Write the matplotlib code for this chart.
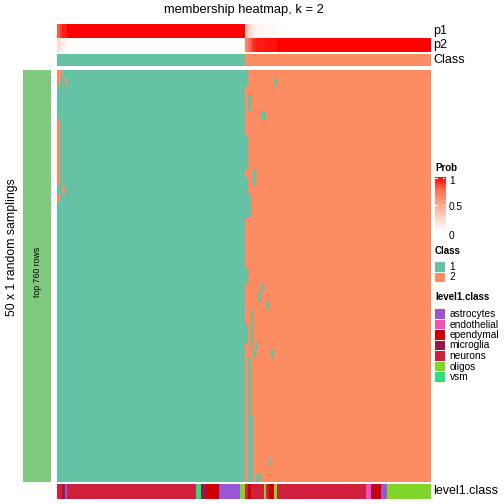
import matplotlib
matplotlib.use('Agg')
import matplotlib.pyplot as plt
import numpy as np
from matplotlib.colors import ListedColormap, LinearSegmentedColormap
from matplotlib.patches import Rectangle

plt.rcParams['font.family'] = ['Liberation Sans', 'DejaVu Sans']

# ---- data ----
n_class1 = 72
n_class2 = 71
n_rows = 50

# membership probability of class 1 per column (p2 = 1 - p1)
p1 = ([0.80, 0.87, 0.93, 0.93] + [1.0] * 68 +
      [0.33, 0.25, 0.16, 0.09, 0.06, 0.06, 0.06, 0.04, 0.04, 0.04, 0.04, 0.04] +
      [0.0] * 59)

# per random sampling: number of leading columns assigned to class 1
row_split = ([73] * 2 + [72] * 6 + [73] * 4 + [72] + [73] * 2 + [74] * 3 +
             [72] * 6 + [73] * 2 + [72] * 5 + [73] * 2 + [72] * 17)

# single cells assigned to class 1 inside class 2 block (row, col)
extra_class1 = [(1, 83), (3, 73), (4, 73), (5, 78), (5, 79), (12, 75), (13, 75),
                (26, 78), (27, 77), (28, 80),
                (29, 74), (30, 74), (31, 74), (32, 74), (33, 74), (33, 76),
                (34, 75), (34, 82),
                (35, 73), (36, 73), (37, 73), (38, 73), (39, 73), (40, 73), (41, 73),
                (42, 73), (43, 73), (44, 73), (45, 73), (46, 73), (47, 73), (48, 73), (49, 73),
                (42, 74), (43, 74), (44, 74), (45, 74), (46, 74), (47, 74), (48, 74), (49, 74),
                (47, 81), (49, 76), (49, 77)]
# cells assigned to class 2 inside class 1 block
extra_class2 = [(0, 0), (0, 1), (1, 0), (1, 3), (6, 0), (7, 0), (8, 0), (9, 0),
                (10, 0), (11, 0), (12, 0), (13, 0), (14, 2), (15, 0)]

# level1.class annotation as runs along the columns
level1_runs = [('neurons', 2), ('microglia', 1), ('astrocytes', 1), ('neurons', 49),
               ('vsm', 2), ('microglia', 2), ('ependymal', 5), ('astrocytes', 8),
               ('oligos', 2), ('neurons', 1), ('ependymal', 1), ('neurons', 5),
               ('oligos', 1), ('neurons', 1), ('ependymal', 2), ('oligos', 1),
               ('neurons', 34), ('endothelial', 2), ('microglia', 1), ('ependymal', 3),
               ('astrocytes', 2), ('oligos', 17)]
level1_names = ['astrocytes', 'endothelial', 'ependymal', 'microglia', 'neurons', 'oligos', 'vsm']
level1_colors = ['#9A55D3', '#F34FB6', '#CC0000', '#98184A', '#D01F3C', '#80D42A', '#2BE07D']

class_colors = ['#66C2A5', '#FC8D62']
prob_cmap = LinearSegmentedColormap.from_list(
    'prob', [(0, '#FFFFFF'), (0.25, '#FFD5C8'), (0.5, '#FFA68E'), (0.75, '#FF7054'), (1, '#FF0000')])

# ---- figure ----
W = H = 504
fig = plt.figure(figsize=(5.04, 5.04), dpi=100)


def box(x0, y0, x1, y1):
    ax = fig.add_axes([x0 / W, 1 - y1 / H, (x1 - x0) / W, (y1 - y0) / H])
    ax.set_axis_off()
    return ax


def swatch(x0, y0, x1, y1, color):
    ax = box(x0, y0, x1, y1)
    ax.add_patch(Rectangle((0, 0), 1, 1, color=color))
    ax.set_xlim(0, 1)
    ax.set_ylim(0, 1)


hx0, hx1 = 57, 430
n_cols = n_class1 + n_class2

# top annotations
p1 = np.array(p1)
ax = box(hx0, 24, hx1, 38)
ax.imshow(p1[None, :], cmap=prob_cmap, vmin=0, vmax=1, aspect='auto', interpolation='nearest')
ax = box(hx0, 38, hx1, 52)
ax.imshow(1 - p1[None, :], cmap=prob_cmap, vmin=0, vmax=1, aspect='auto', interpolation='nearest')
cls = np.array([0] * n_class1 + [1] * n_class2)
ax = box(hx0, 53.5, hx1, 66.5)
ax.imshow(cls[None, :], cmap=ListedColormap(class_colors), vmin=0, vmax=1,
          aspect='auto', interpolation='nearest')

# membership heatmap
mat = np.ones((n_rows, n_cols))
for i, s in enumerate(row_split):
    mat[i, :s] = 0
for r, c in extra_class1:
    mat[r, c] = 0
for r, c in extra_class2:
    mat[r, c] = 1
ax = box(hx0, 70, hx1, 481.7)
ax.imshow(mat, cmap=ListedColormap(class_colors), vmin=0, vmax=1,
          aspect='auto', interpolation='nearest')

# level1.class bottom annotation
codes = []
for name, n in level1_runs:
    codes += [level1_names.index(name)] * n
ax = box(hx0, 484, hx1, 498.5)
ax.imshow(np.array(codes)[None, :], cmap=ListedColormap(level1_colors), vmin=0, vmax=6,
          aspect='auto', interpolation='nearest')

# left row annotation
swatch(23, 70, 51, 481.7, '#7FC97F')
fig.text(37 / W, 1 - 272 / H, 'top 760 rows', rotation=90, ha='center', va='center', fontsize=6.3)
fig.text(12 / W, 1 - 247 / H, '50 x 1 random samplings', rotation=90, ha='center', va='center',
         fontsize=8.8)

# titles and labels
fig.text(243.5 / W, 1 - 10 / H, 'membership heatmap, k = 2', ha='center', va='center', fontsize=9.3)
for lab, y in [('p1', 31), ('p2', 45), ('Class', 60), ('level1.class', 491.5)]:
    fig.text(433 / W, 1 - y / H, lab, ha='left', va='center', fontsize=9)

# legends
lx = 435
fig.text(lx / W, 1 - 168 / H, 'Prob', ha='left', va='center', fontsize=7, fontweight='bold')
ax = box(lx, 177, lx + 10, 232.5)
grad = np.linspace(1, 0, 100)[:, None]
ax.imshow(grad, cmap=prob_cmap, vmin=0, vmax=1, aspect='auto', extent=(0, 1, 0, 1))
ax.set_xlim(0, 1)
ax.set_ylim(0, 1)
for v in [0.02, 0.5, 0.98]:
    ax.plot([0, 0.2], [v, v], color='white', lw=0.8)
    ax.plot([0.8, 1], [v, v], color='white', lw=0.8)
for lab, y in [('1', 181), ('0.5', 207), ('0', 236)]:
    fig.text(449 / W, 1 - y / H, lab, ha='left', va='center', fontsize=7.3)

fig.text(lx / W, 1 - 251 / H, 'Class', ha='left', va='center', fontsize=7, fontweight='bold')
for k, lab in enumerate(['1', '2']):
    y0 = 262 + k * 10.5
    swatch(lx, y0, lx + 10, y0 + 9.5, class_colors[k])
    fig.text(449 / W, 1 - (y0 + 5) / H, lab, ha='left', va='center', fontsize=7.3)

fig.text(lx / W, 1 - 297 / H, 'level1.class', ha='left', va='center', fontsize=7, fontweight='bold')
for k, lab in enumerate(level1_names):
    y0 = 309 + k * 10.5
    swatch(lx, y0, lx + 10, y0 + 9.5, level1_colors[k])
    fig.text(449.5 / W, 1 - (y0 + 5) / H, lab, ha='left', va='center', fontsize=7.3)

fig.savefig('out.png', dpi=100)
